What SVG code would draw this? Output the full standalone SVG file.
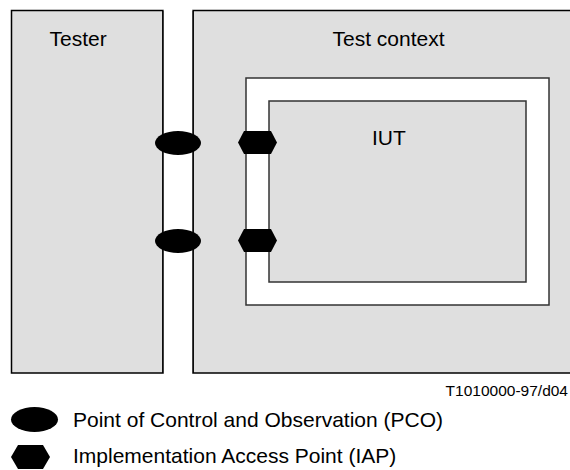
<svg xmlns="http://www.w3.org/2000/svg" width="570" height="470" viewBox="0 0 570 470">
<style>
.box{fill:#dfdfdf;stroke:#000;stroke-width:1.5}
.white{fill:#fff;stroke:#333;stroke-width:1.5}
.inner{fill:#dfdfdf;stroke:#333;stroke-width:1.5}
.t{font-family:"Liberation Sans",Arial,sans-serif;font-size:21px;fill:#000}
.pt{fill:#000}
</style>
<rect width="570" height="470" fill="#fff"/>
<g id="tester">
<rect class="box" x="11.5" y="10.5" width="151.5" height="362.5"/>
<text class="t" x="49.5" y="46">Tester</text>
</g>
<g id="test-context">
<rect class="box" x="193" y="10.5" width="390" height="362.5"/>
<text class="t" x="332.5" y="46">Test context</text>
</g>
<g id="iut-frame">
<rect class="white" x="246" y="78" width="303" height="227"/>
</g>
<g id="iut">
<rect class="inner" x="269" y="101" width="257" height="181"/>
<text class="t" x="372" y="145">IUT</text>
</g>
<g id="connectors">
<rect x="163" y="10.5" width="30" height="362.5" fill="#fff" stroke="none"/>
<line x1="163" y1="10.5" x2="163" y2="373" stroke="#000" stroke-width="1.5"/>
<line x1="193" y1="10.5" x2="193" y2="373" stroke="#000" stroke-width="1.5"/>
</g>
<g id="pco1"><ellipse class="pt" cx="178" cy="143" rx="23" ry="12"/></g>
<g id="pco2"><ellipse class="pt" cx="178" cy="241" rx="23" ry="12"/></g>
<g id="iap1"><polygon class="pt" points="238,142.5 244,131 271,131 277,142.5 271,154 244,154"/></g>
<g id="iap2"><polygon class="pt" points="238,240.5 244,229 271,229 277,240.5 271,252 244,252"/></g>
<g id="ref"><text x="568" y="396" text-anchor="end" style="font-family:'Liberation Sans',Arial,sans-serif;font-size:15.5px">T1010000-97/d04</text></g>
<g id="legend">
<ellipse class="pt" cx="34.5" cy="419.5" rx="23.5" ry="12.5"/>
<text class="t" x="73" y="427">Point of Control and Observation (PCO)</text>
<polygon class="pt" points="11,457 18,445 43,445 50,457 43,469 18,469"/>
<text class="t" x="73" y="463">Implementation Access Point (IAP)</text>
</g>
</svg>
